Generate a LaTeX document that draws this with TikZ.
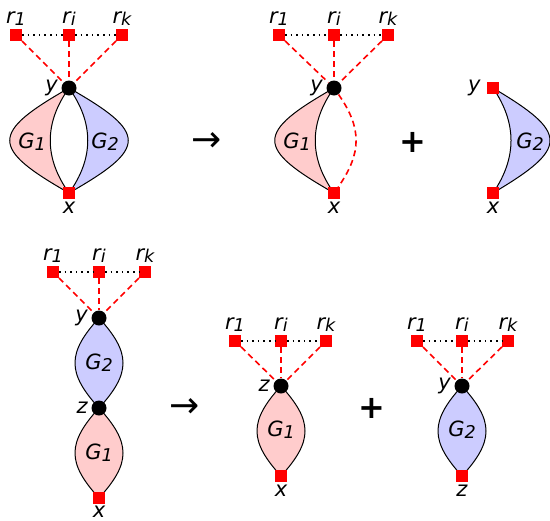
\documentclass[tikz,border=0pt]{standalone}
\usepackage{fontspec}
\setmainfont{DejaVu Sans}
\usetikzlibrary{backgrounds}
\newcommand{\sub}[2]{#1\raisebox{-1pt}{\fontsize{8.8}{9}\selectfont #2}}

\begin{document}
\begin{tikzpicture}[
        x=0.5pt, y=-0.5pt,
        every node/.style={font=\fontsize{10.5}{12}\selectfont\itshape},
        every label/.style={inner sep=1pt},
        label distance=0.5pt,
        term/.style={rectangle, fill=red, minimum size=5.6pt, inner sep=0pt},
        cut/.style={circle, fill=black, minimum size=7.5pt, inner sep=0pt},
        link/.style={red, thick, dash pattern=on 3pt off 2pt},
        chain/.style={thick, dotted},
        lobeA/.style={draw=black, line width=0.5pt, fill=red!20},
        lobeB/.style={draw=black, line width=0.5pt, fill=blue!20},
        op/.style={font=\fontsize{18}{18}\selectfont\upshape},
        plus/.style={font=\fontsize{16}{16}\selectfont\bfseries\upshape}
    ]
        \useasboundingbox (0,0) rectangle (550,520);

        \node (rA1) [term, label=above:\sub{r}{1}] at (16,35) {};
        \node (rAi) [term, label=above:\sub{r}{\itshape i}] at (69,35) {};
        \node (rAk) [term, label=above:\sub{r}{\itshape k}] at (122,35) {};
        \node (yA) [cut, label=left:y] at (69,88) {};
        \node (xA) [term, label=below:x] at (69,193) {};
        \draw [chain] (rA1) -- (rAi) -- (rAk);
        \foreach \r in {rA1,rAi,rAk} \draw [link] (\r) -- (yA);
        \begin{scope}[on background layer]
            \filldraw [lobeA] (yA.center) .. controls +(-79,45) and +(-79,-45) .. (xA.center) .. controls +(-25,-35) and +(-25,35) .. (yA.center);
            \filldraw [lobeB] (yA.center) .. controls +(79,45) and +(79,-45) .. (xA.center) .. controls +(25,-35) and +(25,35) .. (yA.center);
        \end{scope}
        \node (GA1) at (32,142) {\sub{G}{1}};
        \node (GA2) at (105,142) {\sub{G}{2}};

        \node (to1) [op] at (207,142) {→};

        \node (rB1) [term, label=above:\sub{r}{1}] at (279,35) {};
        \node (rBi) [term, label=above:\sub{r}{\itshape i}] at (334,35) {};
        \node (rBk) [term, label=above:\sub{r}{\itshape k}] at (388,35) {};
        \node (yB) [cut, label=left:y] at (334,88) {};
        \node (xB) [term, label=below:x] at (334,193) {};
        \draw [chain] (rB1) -- (rBi) -- (rBk);
        \foreach \r in {rB1,rBi,rBk} \draw [link] (\r) -- (yB);
        \draw [link] (yB) .. controls +(28,40) and +(28,-40) .. (xB);
        \begin{scope}[on background layer]
            \filldraw [lobeA] (yB.center) .. controls +(-79,45) and +(-79,-45) .. (xB.center) .. controls +(-25,-35) and +(-25,35) .. (yB.center);
        \end{scope}
        \node (GB1) at (297,142) {\sub{G}{1}};

        \node (add1) [plus] at (413,142) {+};

        \node (yC) [term, label={[label distance=2pt]left:y}] at (493,88) {};
        \node (xC) [term, label=below:x] at (493,193) {};
        \begin{scope}[on background layer]
            \filldraw [lobeB] (yC.center) .. controls +(76,45) and +(76,-45) .. (xC.center) .. controls +(24,-35) and +(24,35) .. (yC.center);
        \end{scope}
        \node (GC2) at (530,142) {\sub{G}{2}};

        \node (rD1) [term, label=above:\sub{r}{1}] at (53,272) {};
        \node (rDi) [term, label=above:\sub{r}{\itshape i}] at (99,272) {};
        \node (rDk) [term, label=above:\sub{r}{\itshape k}] at (145,272) {};
        \node (yD) [cut, label=left:y] at (99,318) {};
        \node (zD) [cut, label=left:z] at (99,408) {};
        \node (xD) [term, label={[label distance=0pt]below:x}] at (99,498) {};
        \draw [chain] (rD1) -- (rDi) -- (rDk);
        \foreach \r in {rD1,rDi,rDk} \draw [link] (\r) -- (yD);
        \begin{scope}[on background layer]
            \filldraw [lobeB] (yD.center) .. controls +(-32,35) and +(-32,-35) .. (zD.center) .. controls +(32,-35) and +(32,35) .. (yD.center);
            \filldraw [lobeA] (zD.center) .. controls +(-32,35) and +(-32,-35) .. (xD.center) .. controls +(32,-35) and +(32,35) .. (zD.center);
        \end{scope}
        \node (GD2) at (99,363) {\sub{G}{2}};
        \node (GD1) at (99,453) {\sub{G}{1}};

        \node (to2) [op] at (185,408) {→};

        \node (rE1) [term, label=above:\sub{r}{1}] at (235,341) {};
        \node (rEi) [term, label=above:\sub{r}{\itshape i}] at (281,341) {};
        \node (rEk) [term, label=above:\sub{r}{\itshape k}] at (326,341) {};
        \node (zE) [cut, label=left:z] at (281,386) {};
        \node (xE) [term, label=below:x] at (281,476) {};
        \draw [chain] (rE1) -- (rEi) -- (rEk);
        \foreach \r in {rE1,rEi,rEk} \draw [link] (\r) -- (zE);
        \begin{scope}[on background layer]
            \filldraw [lobeA] (zE.center) .. controls +(-32,35) and +(-32,-35) .. (xE.center) .. controls +(32,-35) and +(32,35) .. (zE.center);
        \end{scope}
        \node (GE1) at (281,430) {\sub{G}{1}};

        \node (add2) [plus] at (372,408) {+};

        \node (rF1) [term, label=above:\sub{r}{1}] at (417,341) {};
        \node (rFi) [term, label=above:\sub{r}{\itshape i}] at (462,341) {};
        \node (rFk) [term, label=above:\sub{r}{\itshape k}] at (508,341) {};
        \node (yF) [cut, label=left:y] at (462,386) {};
        \node (zF) [term, label=below:z] at (462,476) {};
        \draw [chain] (rF1) -- (rFi) -- (rFk);
        \foreach \r in {rF1,rFi,rFk} \draw [link] (\r) -- (yF);
        \begin{scope}[on background layer]
            \filldraw [lobeB] (yF.center) .. controls +(-32,35) and +(-32,-35) .. (zF.center) .. controls +(32,-35) and +(32,35) .. (yF.center);
        \end{scope}
        \node (GF2) at (462,430) {\sub{G}{2}};
    \end{tikzpicture}
\end{document}
